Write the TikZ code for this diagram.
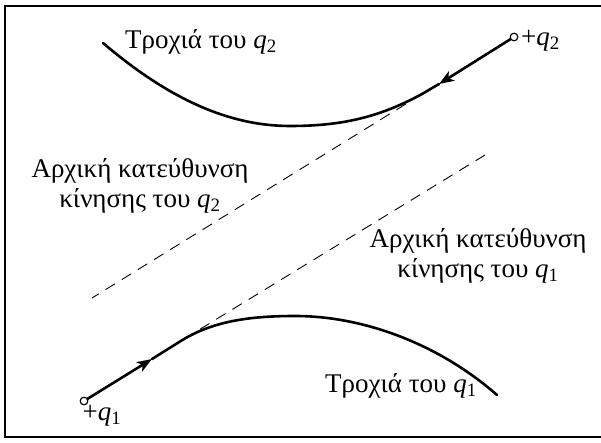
\documentclass[tikz,border=0pt]{standalone}
\usepackage{fontspec}
\setmainfont{Liberation Serif}
\usetikzlibrary{arrows.meta}
\newcommand{\qsub}[1]{{\itshape q}\textsubscript{#1}}
\begin{document}
\begin{tikzpicture}[x=1pt,y=-1pt,
  frame/.style={line width=2pt},
  traj/.style={line width=2.6pt, line cap=round},
  dir/.style={line width=0.9pt, dash pattern=on 11pt off 8pt},
  charge/.style={circle, draw, line width=1pt, fill=white, inner sep=0pt, minimum size=7.5pt},
  lbl/.style={font=\fontsize{27}{30}\selectfont, inner sep=0pt, align=center},
  tip/.style={-{Stealth[length=15pt,width=11pt,inset=4pt]}}
]
\useasboundingbox (0,0) rectangle (601,443);
\fill[white] (0,0) rectangle (601,443);
% frame
\draw[frame] (603,6) -- (5,6) -- (5,437) -- (603,437);
% coordinates
\coordinate (T2) at (422,94);
\coordinate (A2) at (439,84);
\coordinate (E2) at (92,298);
\coordinate (S2) at (103,43);
\coordinate (M2) at (290,126);
\coordinate (T1) at (184,339);
\coordinate (A1) at (152,359);
\coordinate (E1) at (485,155);
\coordinate (M1) at (295,316);
\coordinate (F1) at (497,395);
% dashed initial directions
\draw[dir] (T2) -- (E2);
\draw[dir] (E1) -- (T1);
% q2 trajectory
\node[charge] (q2) at (514,37) {};
\draw[traj] (S2) .. controls (170,100) and (230,126) .. (M2) .. controls (340,126) and (378,118) .. (T2);
\draw[traj, tip] (q2) -- (A2);
\draw[traj] (A2) -- (T2);
% q1 trajectory
\node[charge] (q1) at (84,401) {};
\draw[traj] (T1) .. controls (215,321) and (250,316) .. (M1) .. controls (365,316) and (440,345) .. (F1);
\draw[traj, tip] (q1) -- (A1);
\draw[traj] (A1) -- (T1);
\node[charge] at (q2) {};
\node[charge] at (q1) {};
% labels
\node[lbl] (l2) at (201,42) {Τροχιά του \qsub{2}};
\node[lbl, anchor=west] (p2) at (521,41) {+\qsub{2}};
\node[lbl] (d2) at (140,186) {Αρχική κατεύθυνση\\κίνησης του \qsub{2}};
\node[lbl] (d1) at (478,256) {Αρχική κατεύθυνση\\κίνησης του \qsub{1}};
\node[lbl] (l1) at (401,386) {Τροχιά του \qsub{1}};
\node[lbl] (p1) at (102,416) {+\qsub{1}};
\end{tikzpicture}
\end{document}
